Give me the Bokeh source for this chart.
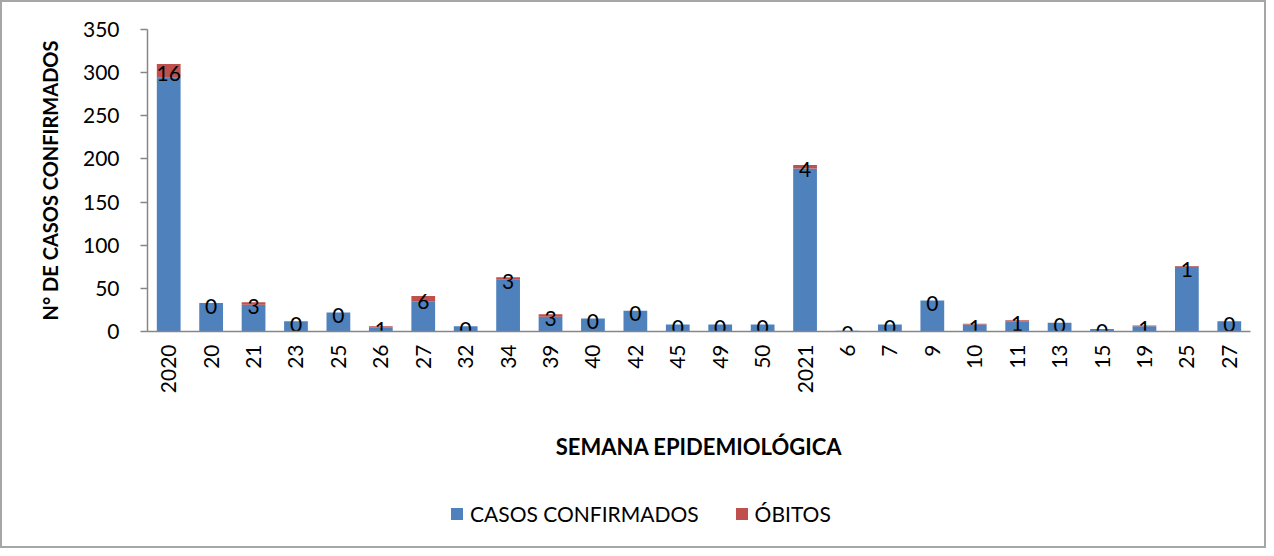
from math import pi
from bokeh.plotting import figure
from bokeh.layouts import column
from bokeh.models import ColumnDataSource, Range1d, FixedTicker, Legend, LegendItem
from bokeh.core.properties import value
from bokeh.embed import file_html
from bokeh.resources import INLINE

semanas = ["2020", "20", "21", "23", "25", "26", "27", "32", "34", "39", "40", "42", "45",
           "49", "50", "2021", "6", "7", "9", "10", "11", "13", "15", "19", "25", "27"]
casos = [294, 33, 31, 12, 22, 5, 35, 6, 60, 17, 15, 24, 8, 8, 8, 189, 1, 8, 36, 8, 12, 10, 3, 6, 75, 12]
obitos = [16, 0, 3, 0, 0, 1, 6, 0, 3, 3, 0, 0, 0, 0, 0, 4, 0, 0, 0, 1, 1, 0, 0, 1, 1, 0]
y_ticks = [0, 50, 100, 150, 200, 250, 300, 350]
series_names = ["CASOS CONFIRMADOS", "ÓBITOS"]

BLUE = "#4F81BD"
RED = "#C0504D"
FONT = "Lato"

xs = list(range(len(semanas)))
source = ColumnDataSource(dict(
    x=xs,
    casos=casos,
    obitos=obitos,
    ylab=[c + o / 2 for c, o in zip(casos, obitos)],
    olab=[str(o) for o in obitos],
))

p = figure(width=1262, height=484, output_backend="svg", toolbar_location=None,
           x_range=Range1d(-0.5, len(semanas) - 0.5), y_range=Range1d(0, 350),
           min_border_left=145, min_border_right=14, min_border_top=27, min_border_bottom=155)
p.outline_line_color = None
p.xgrid.visible = False
p.ygrid.visible = False

rs = p.vbar_stack(["casos", "obitos"], x="x", width=0.56, color=[BLUE, RED],
                  line_color=None, source=source)

p.text(x="x", y="ylab", text="olab", source=source, text_align="center",
       text_baseline="middle", text_font=value(FONT), text_font_size="21px",
       text_color="#000000", y_offset=3)

# axes
for ax in (p.xaxis, p.yaxis):
    ax.axis_line_color = "#868686"
    ax.axis_line_width = 1.5
    ax.major_tick_line_color = "#868686"
    ax.major_tick_line_width = 1.5
    ax.minor_tick_line_color = None
    ax.major_label_text_font = FONT
    ax.major_label_text_font_size = "21px"
    ax.major_label_text_color = "#000000"
    ax.axis_label_text_font = FONT
    ax.axis_label_text_font_style = "bold"
    ax.axis_label_text_color = "#000000"

p.xaxis.ticker = FixedTicker(ticks=xs)
p.xaxis.major_label_overrides = {i: s for i, s in zip(xs, semanas)}
p.xaxis.major_label_orientation = pi / 2
p.xaxis.major_tick_out = 0
p.xaxis.major_tick_in = 0
p.xaxis.major_label_standoff = 13
p.xaxis.axis_label = "SEMANA EPIDEMIOLÓGICA"
p.xaxis.axis_label_text_font_size = "22px"
p.xaxis.axis_label_standoff = 37

p.yaxis.ticker = FixedTicker(ticks=y_ticks)
p.yaxis.major_tick_out = 7
p.yaxis.major_tick_in = 0
p.yaxis.major_label_standoff = 21
p.yaxis.axis_label = "N° DE CASOS CONFIRMADOS"
p.yaxis.axis_label_text_font_size = "20px"
p.yaxis.axis_label_standoff = 18

# legend strip below the chart (swatch renderers hold one point outside the visible range)
p2 = figure(width=1262, height=60, output_backend="svg", toolbar_location=None,
            x_range=Range1d(0, 1), y_range=Range1d(0, 1), x_axis_type=None, y_axis_type=None,
            min_border=0)
p2.outline_line_color = None
p2.xgrid.visible = False
p2.ygrid.visible = False
l1 = p2.vbar(x=[-10], top=[-10], bottom=[-11], width=0.5, color=BLUE, line_color=None)
l2 = p2.vbar(x=[-10], top=[-10], bottom=[-11], width=0.5, color=RED, line_color=None)
legend = Legend(items=[LegendItem(label=series_names[0], renderers=[l1]),
                       LegendItem(label=series_names[1], renderers=[l2])],
                orientation="horizontal", location=(302, 20),
                glyph_width=15, glyph_height=15, label_standoff=6, spacing=35,
                padding=0, margin=0, border_line_color=None, background_fill_alpha=0,
                label_text_font=FONT, label_text_font_size="21px", label_text_color="#000000")
p2.add_layout(legend)

layout = column(p, p2, spacing=0, styles={"border": "2px solid #a6a6a6"})

open("out.html", "w").write(file_html(layout, INLINE))
